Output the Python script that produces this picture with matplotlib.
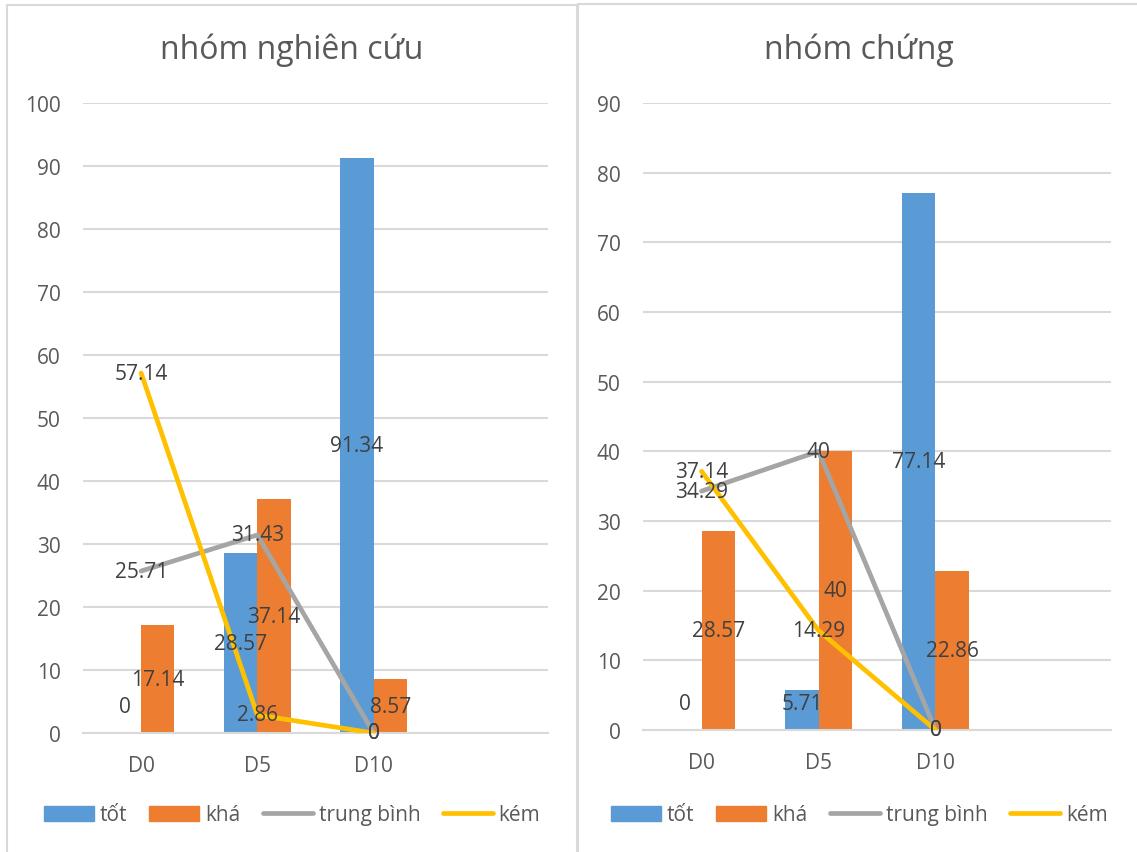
import matplotlib
matplotlib.use("Agg")
import matplotlib.pyplot as plt
from matplotlib.patches import Patch
from matplotlib.lines import Line2D
import numpy as np

plt.rcParams['font.family'] = ['Open Sans', 'DejaVu Sans']

# categories (the fourth slot is left empty on the axis)
categories = ["D0", "D5", "D10", ""]
series_names = ["tốt", "khá", "trung bình", "kém"]

# nhóm nghiên cứu
study_tot = [0, 28.57, 91.34]
study_kha = [17.14, 37.14, 8.57]
study_tb = [25.71, 31.43, 0]
study_kem = [57.14, 2.86, 0]

# nhóm chứng
ctrl_tot = [0, 5.71, 77.14]
ctrl_kha = [28.57, 40, 22.86]
ctrl_tb = [34.29, 40, 0]
ctrl_kem = [37.14, 14.29, 0]

titles = ["nhóm nghiên cứu", "nhóm chứng"]
y_limits = [100, 90]

BLUE = "#5B9BD5"
ORANGE = "#ED7D31"
GRAY = "#A5A5A5"
YELLOW = "#FFC000"
GRID = "#D9D9D9"
TICK_TXT = "#595959"
LABEL_TXT = "#404040"

W, H = 1137, 853
fig = plt.figure(figsize=(W / 100, H / 100), dpi=100)
fig.patch.set_facecolor("white")


def px_rect(x0, y0, x1, y1):
    return [x0 / W, 1 - y1 / H, (x1 - x0) / W, (y1 - y0) / H]


axes_rects = [px_rect(83, 104, 548, 734), px_rect(643, 104, 1111, 731)]
panel_centers = [292, 859]
datasets = [
    (study_tot, study_kha, study_tb, study_kem),
    (ctrl_tot, ctrl_kha, ctrl_tb, ctrl_kem),
]

bar_w = 0.285
min_label_px = 26
FS = 15
LW = 3.4

for rect, center, ymax, title, data in zip(axes_rects, panel_centers,
                                           y_limits, titles, datasets):
    tot, kha, tb, kem = data
    ax = fig.add_axes(rect)
    n = len(tot)
    x = np.arange(n)
    ax.set_xlim(-0.5, len(categories) - 0.5)
    ax.set_ylim(0, ymax)

    ax.bar(x - bar_w / 2, tot, width=bar_w, color=BLUE, zorder=2)
    ax.bar(x + bar_w / 2, kha, width=bar_w, color=ORANGE, zorder=2)
    ax.plot(x, tb, color=GRAY, lw=LW, solid_capstyle="round",
            solid_joinstyle="round", zorder=3)
    ax.plot(x, kem, color=YELLOW, lw=LW, solid_capstyle="round",
            solid_joinstyle="round", zorder=3)

    ax.set_yticks(np.arange(0, ymax + 1, 10))
    ax.set_xticks(np.arange(len(categories)))
    ax.set_xticklabels(categories)
    ax.grid(axis="y", color=GRID, lw=1.5, zorder=0)
    ax.set_axisbelow(True)
    for s in ["top", "right", "left"]:
        ax.spines[s].set_visible(False)
    ax.spines["bottom"].set_color(GRID)
    ax.spines["bottom"].set_linewidth(1.5)
    ax.tick_params(axis="both", length=0, labelsize=FS, labelcolor=TICK_TXT)
    ax.tick_params(axis="y", pad=16)
    ax.tick_params(axis="x", pad=16)

    # data labels: bars centred inside the bar, lines centred on the point
    fig.canvas.draw()
    to_px = ax.transData.transform
    for xs, vals in ((x - bar_w / 2, tot), (x + bar_w / 2, kha)):
        for xi, v in zip(xs, vals):
            half_px = to_px((xi, v / 2))[1] - to_px((xi, 0))[1]
            off = max(half_px, min_label_px) * 72 / 100
            ax.annotate(f"{v:g}", xy=(xi, 0), xytext=(0, off),
                        textcoords="offset points", ha="center", va="center",
                        fontsize=FS, color=LABEL_TXT, zorder=5)
    for vals in (tb, kem):
        for xi, v in zip(x, vals):
            ax.text(xi, v, f"{v:g}", ha="center", va="center",
                    fontsize=FS, color=LABEL_TXT, zorder=5)

    fig.text(center / W, 1 - 50 / H, title, ha="center", va="center",
             fontsize=23, color=TICK_TXT)

    handles = [
        Patch(color=BLUE), Patch(color=ORANGE),
        Line2D([], [], color=GRAY, lw=LW, solid_capstyle="round"),
        Line2D([], [], color=YELLOW, lw=LW, solid_capstyle="round"),
    ]
    fig.legend(handles, series_names, loc="center",
               bbox_to_anchor=(center / W, 1 - 816 / H), ncol=4,
               frameon=False, fontsize=FS, labelcolor=TICK_TXT,
               handlelength=2.4, handleheight=0.7, handletextpad=0.3,
               columnspacing=1.05)

# panel borders
def fig_line(xs, ys, lw=1.5):
    fig.add_artist(Line2D([v / W for v in xs], [1 - v / H for v in ys],
                          color=GRID, lw=lw, transform=fig.transFigure))

fig_line([7, 7, 577, 577], [860, 6, 6, 860])
fig_line([578, 578, 1140], [860, 5, 5])

fig.savefig("out.png", dpi=100, facecolor="white")
